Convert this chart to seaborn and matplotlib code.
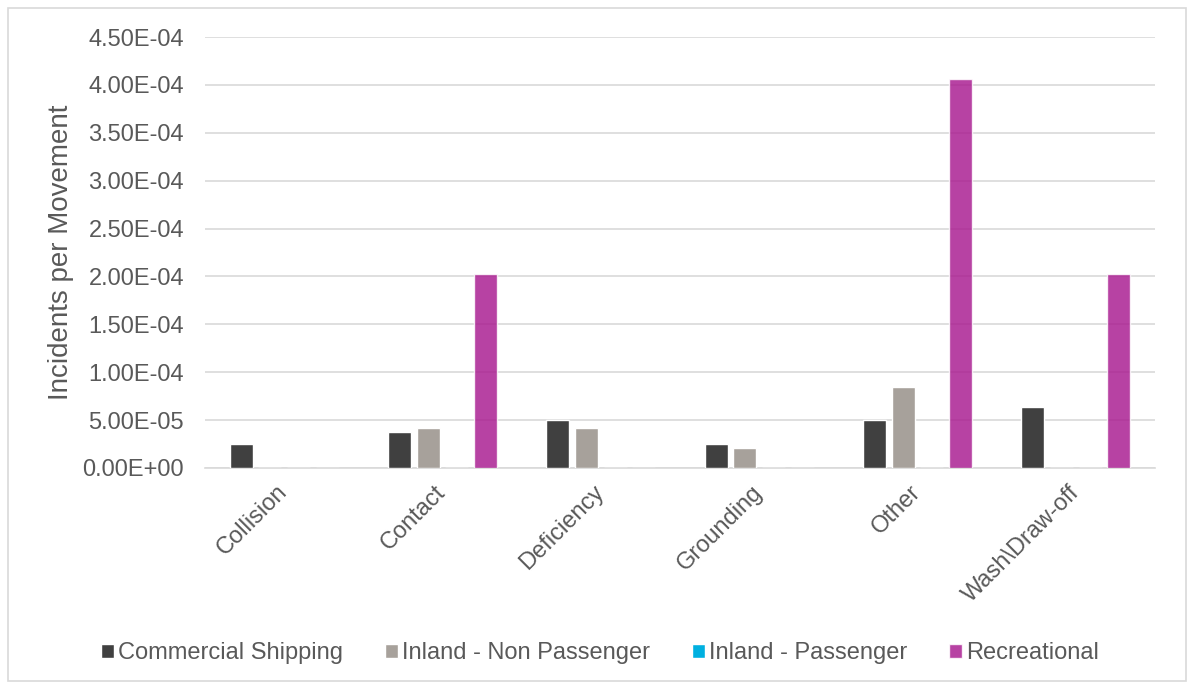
import matplotlib
matplotlib.use("Agg")
import matplotlib.pyplot as plt
from matplotlib.patches import Rectangle
import seaborn as sns
import pandas as pd

# values
categories = ["Collision", "Contact", "Deficiency", "Grounding", "Other", "Wash\\Draw-off"]
series_names = ["Commercial Shipping", "Inland - Non Passenger", "Inland - Passenger", "Recreational"]
commercial = [2.53e-5, 3.80e-5, 5.06e-5, 2.53e-5, 5.06e-5, 6.33e-5]
inland_non_passenger = [0.0, 4.21e-5, 4.21e-5, 2.10e-5, 8.42e-5, 0.0]
inland_passenger = [0.0, 0.0, 0.0, 0.0, 0.0, 0.0]
recreational = [0.0, 2.03e-4, 0.0, 0.0, 4.06e-4, 2.03e-4]
y_ticks = [0, 0.5e-4, 1.0e-4, 1.5e-4, 2.0e-4, 2.5e-4, 3.0e-4, 3.5e-4, 4.0e-4, 4.5e-4]

colors = ["#404040", "#A7A19B", "#00B0E0", "#A8188F"]

rows = []
for name, vals in zip(series_names, [commercial, inland_non_passenger, inland_passenger, recreational]):
    for cat, v in zip(categories, vals):
        rows.append({"category": cat, "series": name, "value": v})
df = pd.DataFrame(rows)

sns.set_style("white")
plt.rcParams["font.family"] = ["Liberation Sans", "DejaVu Sans"]
text_gray = "#595959"
grid_gray = "#D9D9D9"

fig = plt.figure(figsize=(11.92, 6.89), dpi=100)
ax = fig.add_axes([205 / 1192, 1 - 468 / 689, 950 / 1192, 431 / 689])

sns.barplot(data=df, x="category", y="value", hue="series", order=categories,
            hue_order=series_names, palette=colors, width=0.725, gap=0.2,
            saturation=1, errorbar=None, ax=ax, zorder=3)

# recreational bars are semi transparent in the original
for bar in ax.containers[3]:
    bar.set_alpha(0.82)

ax.set_ylim(0, 4.5e-4)
ax.set_yticks(y_ticks)
ax.set_yticklabels([f"{v:.2E}" for v in y_ticks])
ax.yaxis.grid(True, color=grid_gray, linewidth=1.2, zorder=0)
ax.set_axisbelow(True)
for s in ["top", "right", "left"]:
    ax.spines[s].set_visible(False)
ax.spines["bottom"].set_color(grid_gray)
ax.spines["bottom"].set_linewidth(1.2)
ax.tick_params(axis="both", length=0, colors=text_gray, labelsize=17)
ax.tick_params(axis="y", pad=15)
ax.tick_params(axis="x", pad=15)
for lab in ax.get_xticklabels():
    lab.set_rotation(45)
    lab.set_ha("right")
    lab.set_va("center")
    lab.set_rotation_mode("anchor")

ax.set_xlabel("")
ax.set_ylabel("Incidents per Movement", fontsize=20, color=text_gray, labelpad=6)

handles, labels = ax.get_legend_handles_labels()
ax.get_legend().remove()
handles[3].set_alpha(0.82)
leg = fig.legend(handles, labels, loc="center", bbox_to_anchor=(600 / 1192, 1 - 653 / 689),
                 ncol=4, frameon=False, fontsize=17, handlelength=0.55, handleheight=0.55,
                 handletextpad=0.2, columnspacing=1.75)
for t in leg.get_texts():
    t.set_color(text_gray)

# outer chart border
fig.patches.append(Rectangle((8 / 1192, 1 - 681 / 689), 1178 / 1192, 673 / 689,
                             transform=fig.transFigure, fill=False,
                             edgecolor=grid_gray, linewidth=1.2))

fig.savefig("out.png", dpi=100)
